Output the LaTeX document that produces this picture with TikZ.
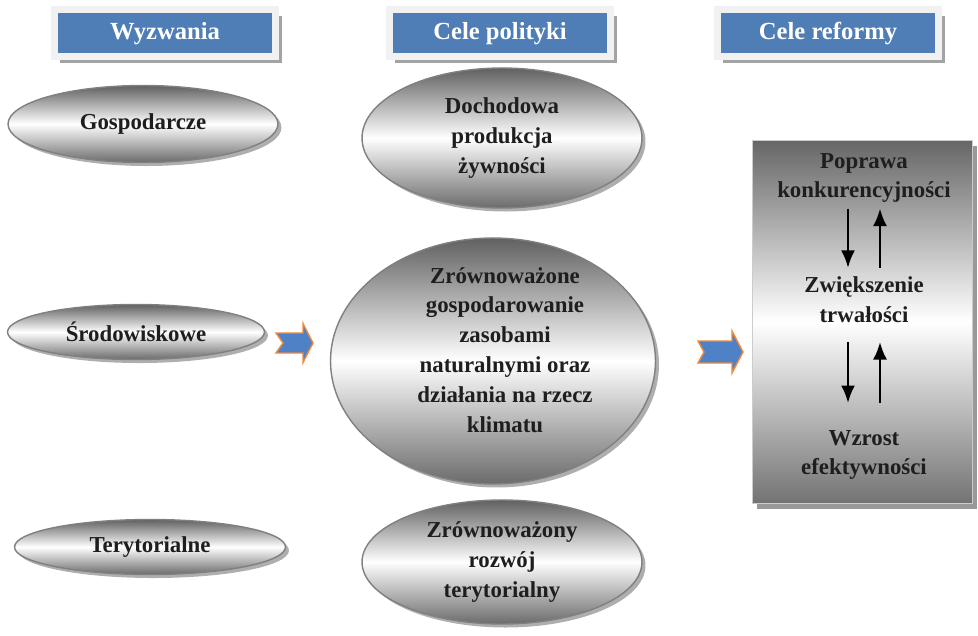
\documentclass[tikz,border=0pt]{standalone}
\usepackage{fontspec}
\setmainfont{Liberation Serif}
\usetikzlibrary{shapes.geometric,shadows,arrows.meta}

\definecolor{headblue}{HTML}{4F7DB6}
\definecolor{headframe}{HTML}{F1F1F1}
\definecolor{arrowblue}{HTML}{4F81C7}
\definecolor{arroworange}{HTML}{EE8A3A}
\definecolor{textdark}{HTML}{1E1E1E}

\tikzset{
  headbox/.style={rectangle, fill=headblue, draw=headframe, line width=0.14cm, minimum width=4.44cm, minimum height=0.94cm, text=white, font=\fontsize{14}{17}\selectfont\bfseries, drop shadow={shadow xshift=3.5pt, shadow yshift=-3.5pt, fill=black!45, opacity=0.8}},
  oval/.style={ellipse, draw=black!50, line width=0.8pt, top color=black!62, bottom color=black!58, middle color=white, inner sep=0pt, align=center, text=textdark, font=\fontsize{13}{17}\selectfont\bfseries, drop shadow={shadow xshift=2pt, shadow yshift=-2pt, fill=black!45, opacity=0.7}},
  ovaltext/.style={align=center, text=textdark, font=\fontsize{13}{17}\selectfont\bfseries},
  blockarrow/.style={fill=arrowblue, draw=arroworange, line width=0.8pt, line join=miter},
  reformtext/.style={align=center, text=textdark, font=\fontsize{13}{17}\selectfont\bfseries, inner sep=1pt},
  arr/.style={-{Latex[length=10pt,width=8pt]}, line width=1.5pt}
}

\begin{document}
\begin{tikzpicture}[x=0.02cm, y=-0.02cm]
\useasboundingbox (0,0) rectangle (978,636);

% naglowki kolumn
\foreach \nm/\x/\txt in {wyzwania/165/Wyzwania, cele/500/Cele polityki, reformy/828/Cele reformy}
  \node[name=\nm, headbox, text depth=0.5ex] at (\x,33) {\txt};

% wyzwania
\node[name=gosp, oval, minimum width=5.4cm, minimum height=1.54cm] at (143,124) {Gospodarcze};
\node[name=srod, oval, minimum width=5.14cm, minimum height=1.1cm] at (136,332) {Środowiskowe};
\node[name=teryt, oval, minimum width=5.42cm, minimum height=1.1cm] at (150,547) {Terytorialne};

% cele polityki
\node[name=docho, oval, minimum width=5.6cm, minimum height=2.8cm] at (502,138) {Dochodowa\\produkcja\\żywności};
\node[name=zasoby, oval, minimum width=6.5cm, minimum height=4.92cm] at (493,361) {};
\node[name=zasobytxt, ovaltext] at ([shift={(12,-11)}]zasoby.center) {Zrównoważone\\gospodarowanie\\zasobami\\naturalnymi oraz\\działania na rzecz\\klimatu};
\node[name=rozwoj, oval, minimum width=5.6cm, minimum height=2.48cm] at (502,562) {Zrównoważony\\rozwój\\terytorialny};

% strzalki blokowe
\coordinate (strz1) at (276,343);
\coordinate (strz2) at (698,352);
\draw[blockarrow, shift={(strz1)}] (0,-10) -- (27,-10) -- (27,-19.5) -- (37,0) -- (27,19.5) -- (27,10) -- (0,10) -- (7,0) -- cycle;
\draw[blockarrow, shift={(strz2)}] (0,-11) -- (34,-11) -- (34,-21) -- (45,0) -- (34,21) -- (34,11) -- (0,11) -- (6,0) -- cycle;

% cele reformy
\node[name=reform, rectangle, draw=black!20, line width=0.5pt, top color=black!60, bottom color=black!55, middle color=white, minimum width=4.4cm, minimum height=7.26cm, drop shadow={shadow xshift=3pt, shadow yshift=-3pt, fill=black!50, opacity=0.8}] at (862,322) {};
\node[name=poprawa, reformtext] at (864,178) {Poprawa\\konkurencyjności};
\node[name=zwieksz, reformtext] at (864,300) {Zwiększenie\\trwałości};
\node[name=wzrost, reformtext] at (864,455) {Wzrost\\efektywności};

\draw[arr, shorten <=2pt, shorten >=4pt] ([xshift=-0.32cm]poprawa.south) -- ([xshift=-0.32cm]zwieksz.north);
\draw[arr, shorten <=4pt, shorten >=2pt] ([xshift=0.32cm]zwieksz.north) -- ([xshift=0.32cm]poprawa.south);
\draw[arr, shorten <=9.6pt, shorten >=14.2pt] ([xshift=-0.32cm]zwieksz.south) -- ([xshift=-0.32cm]wzrost.north);
\draw[arr, shorten <=14.2pt, shorten >=9.6pt] ([xshift=0.32cm]wzrost.north) -- ([xshift=0.32cm]zwieksz.south);
\end{tikzpicture}
\end{document}
